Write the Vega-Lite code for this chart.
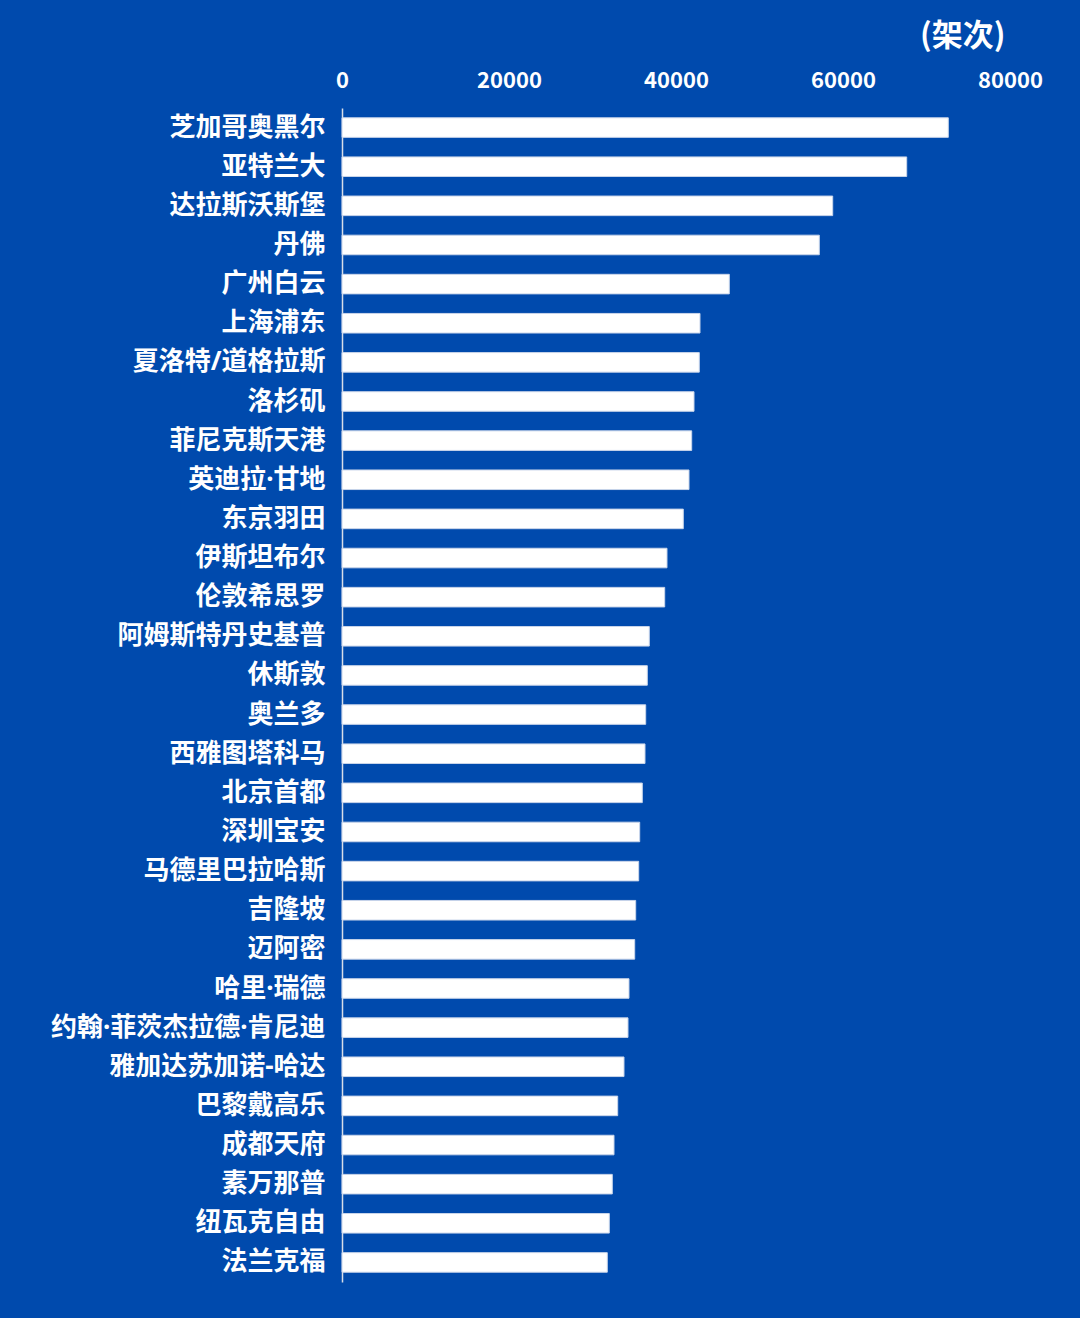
{
  "$schema": "https://vega.github.io/schema/vega-lite/v6.json",
  "autosize": {"type": "none"},
  "width": 668,
  "height": 1174,
  "padding": {"left": 342, "top": 108, "right": 70, "bottom": 36},
  "background": "#004aad",
  "data": {
    "values": [
      {"airport": "芝加哥奥黑尔", "flights": 72611},
      {"airport": "亚特兰大", "flights": 67629},
      {"airport": "达拉斯沃斯堡", "flights": 58766},
      {"airport": "丹佛", "flights": 57162},
      {"airport": "广州白云", "flights": 46383},
      {"airport": "上海浦东", "flights": 42874},
      {"airport": "夏洛特/道格拉斯", "flights": 42790},
      {"airport": "洛杉矶", "flights": 42156},
      {"airport": "菲尼克斯天港", "flights": 41880},
      {"airport": "英迪拉·甘地", "flights": 41557},
      {"airport": "东京羽田", "flights": 40874},
      {"airport": "伊斯坦布尔", "flights": 38922},
      {"airport": "伦敦希思罗", "flights": 38647},
      {"airport": "阿姆斯特丹史基普", "flights": 36802},
      {"airport": "休斯敦", "flights": 36563},
      {"airport": "奥兰多", "flights": 36371},
      {"airport": "西雅图塔科马", "flights": 36287},
      {"airport": "北京首都", "flights": 35964},
      {"airport": "深圳宝安", "flights": 35653},
      {"airport": "马德里巴拉哈斯", "flights": 35533},
      {"airport": "吉隆坡", "flights": 35174},
      {"airport": "迈阿密", "flights": 35054},
      {"airport": "哈里·瑞德", "flights": 34371},
      {"airport": "约翰·菲茨杰拉德·肯尼迪", "flights": 34251},
      {"airport": "雅加达苏加诺-哈达", "flights": 33772},
      {"airport": "巴黎戴高乐", "flights": 33018},
      {"airport": "成都天府", "flights": 32575},
      {"airport": "素万那普", "flights": 32371},
      {"airport": "纽瓦克自由", "flights": 32012},
      {"airport": "法兰克福", "flights": 31772}
    ]
  },
  "mark": {"type": "bar", "color": "#ffffff", "stroke": "#c9d5ea", "strokeWidth": 1},
  "encoding": {
    "y": {
      "field": "airport",
      "type": "nominal",
      "sort": null,
      "scale": {"paddingInner": 0.5, "paddingOuter": 0.25},
      "axis": {
        "title": null,
        "ticks": false,
        "labelPadding": 17,
        "labelFont": "Noto Sans, Noto Sans CJK SC",
        "labelFontSize": 26,
        "labelFontWeight": "bold",
        "labelColor": "#ffffff",
        "labelLimit": 400,
        "domainColor": "#d8dde8",
        "domainWidth": 1.5
      }
    },
    "x": {
      "field": "flights",
      "type": "quantitative",
      "scale": {"domain": [0, 80000]},
      "axis": {
        "orient": "top",
        "values": [0, 20000, 40000, 60000, 80000],
        "format": "d",
        "grid": false,
        "ticks": false,
        "domain": false,
        "labelFlush": false,
        "labelPadding": 28,
        "labelBaseline": "middle",
        "labelFontSize": 22,
        "labelFontWeight": "bold",
        "labelColor": "#ffffff",
        "title": "(架次)",
        "titleAnchor": "end",
        "titleAlign": "right",
        "titleBaseline": "middle",
        "titleX": 663,
        "titleY": -72,
        "titleFontSize": 31,
        "titleFontWeight": "bold",
        "titleColor": "#ffffff"
      }
    }
  },
  "config": {
    "font": "Noto Sans CJK SC",
    "view": {"stroke": null}
  }
}
